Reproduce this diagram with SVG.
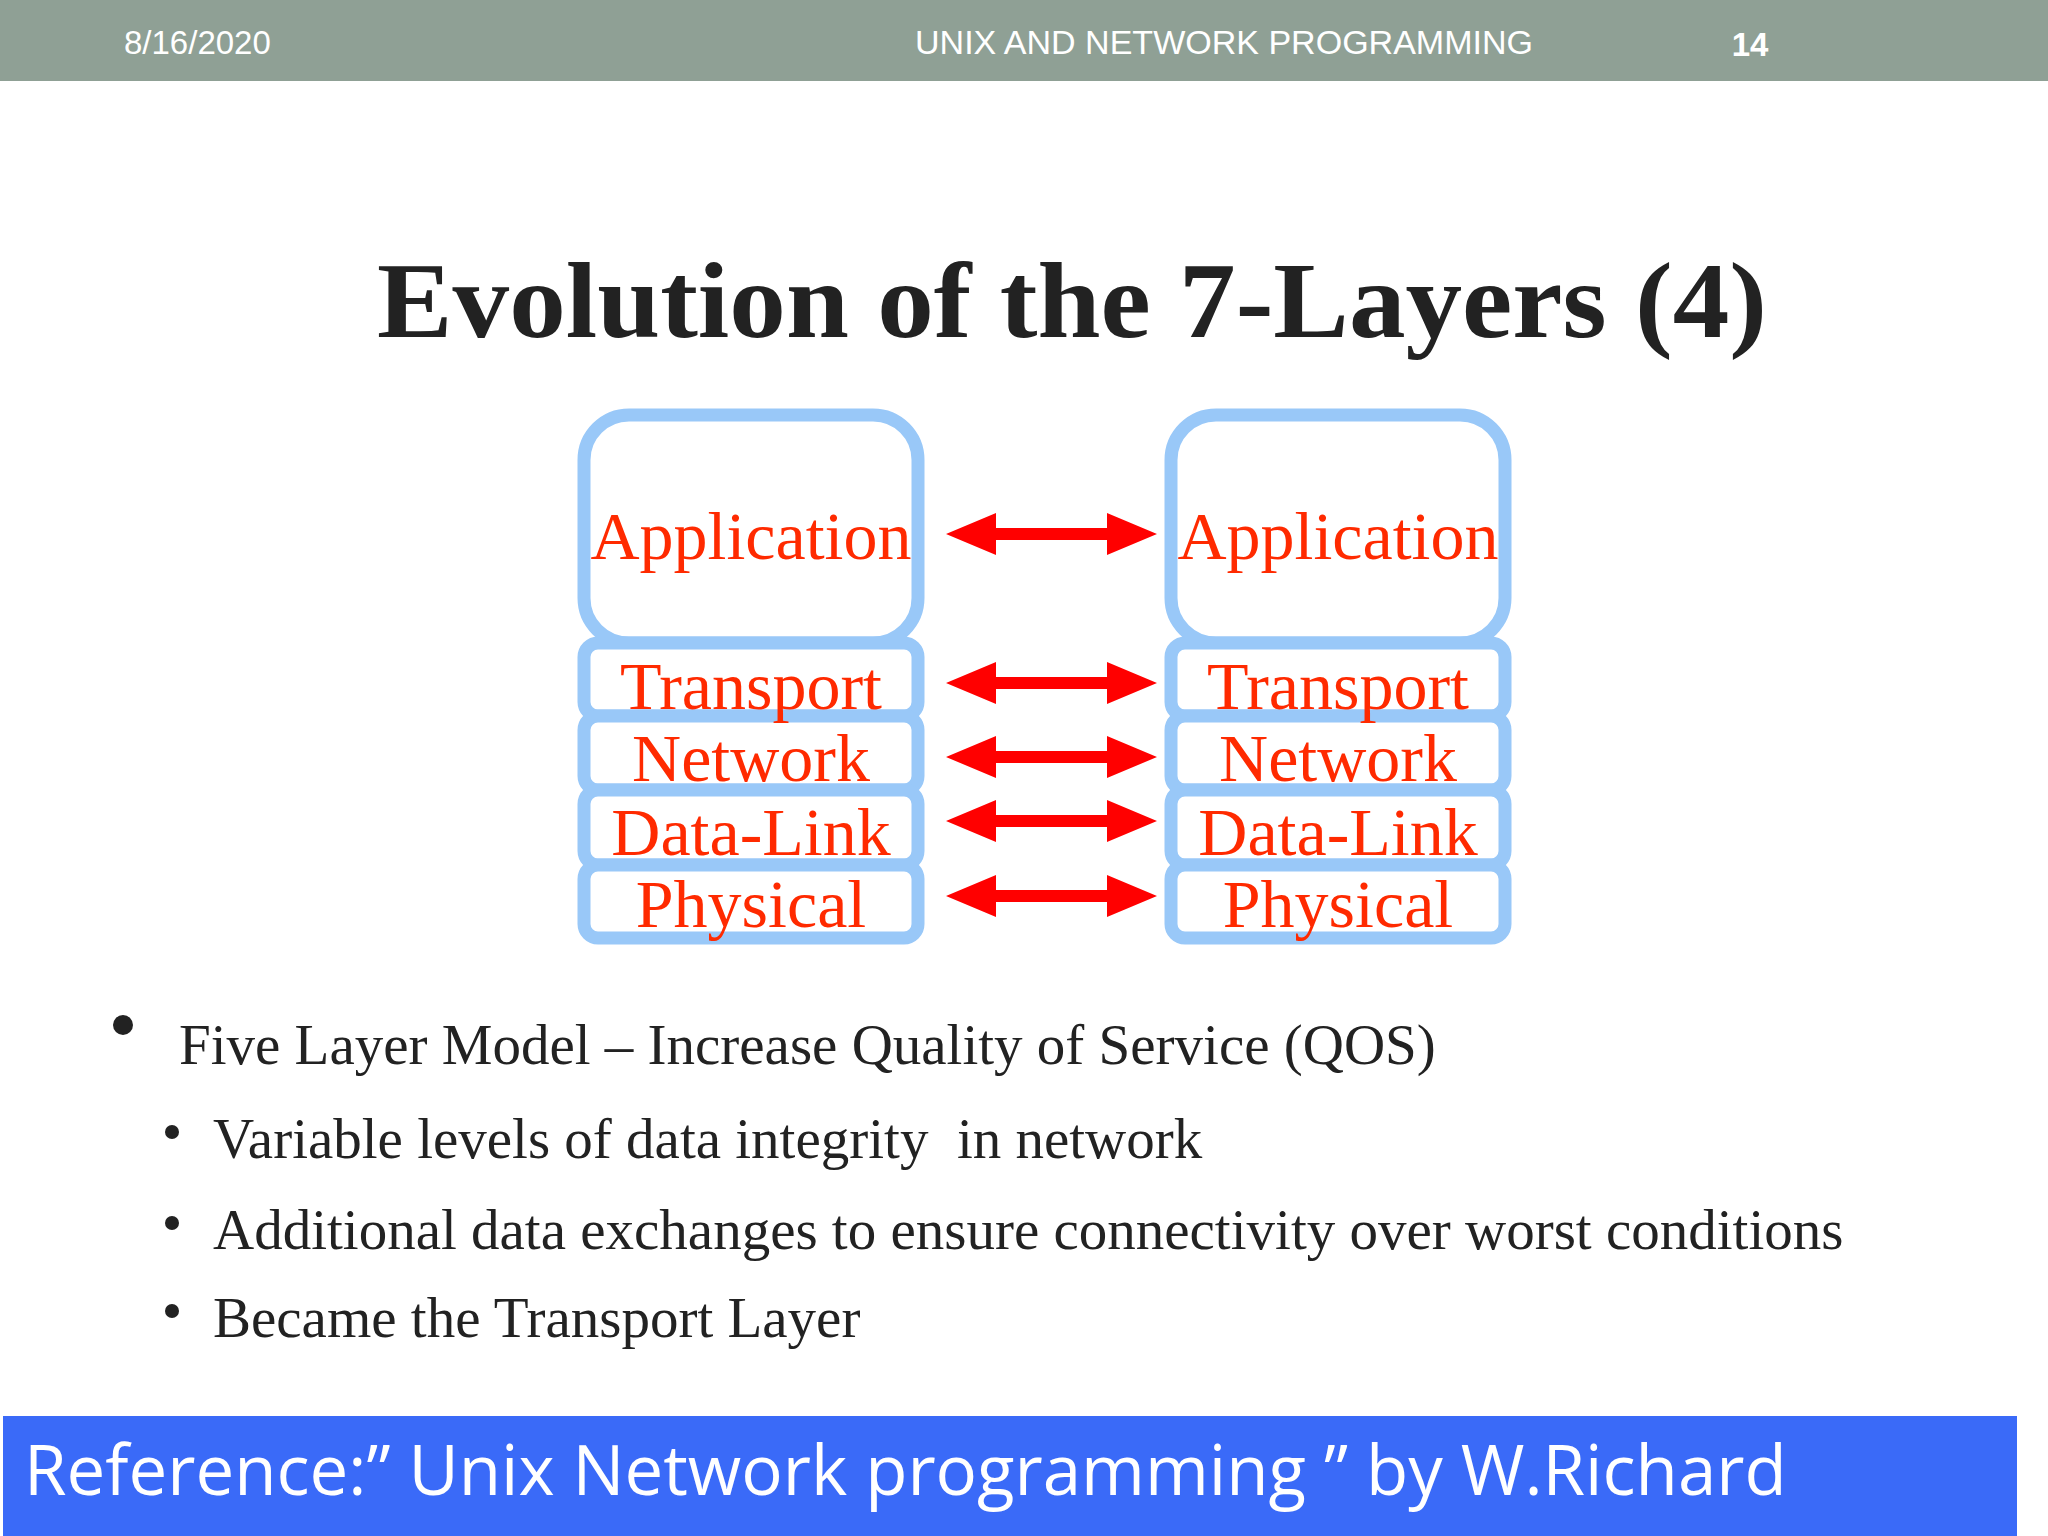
<svg xmlns="http://www.w3.org/2000/svg" width="2048" height="1536" viewBox="0 0 2048 1536">
<style>
.hd{font-family:"Liberation Sans",Arial,sans-serif;font-size:33px;fill:#fff}
.box{fill:#fff;stroke:#99c8f8;stroke-width:13}
.lb{font-family:"Liberation Serif","Times New Roman",serif;font-size:68px;fill:#ff2a00;text-anchor:middle}
.bt{font-family:"Liberation Serif","Times New Roman",serif;fill:#222}
.arr{fill:#ff0000}
</style>
<defs>
<path id="a" d="M0,0 L50,-21 L50,-6 L161,-6 L161,-21 L211,0 L161,21 L161,6 L50,6 L50,21 Z"/>
</defs>
<rect width="2048" height="1536" fill="#fff"/>
<rect x="0" y="0" width="2048" height="81" fill="#8fa095"/>
<text class="hd" x="124" y="54">8/16/2020</text>
<text class="hd" x="1224" y="54" text-anchor="middle" textLength="618" lengthAdjust="spacingAndGlyphs">UNIX AND NETWORK PROGRAMMING</text>
<text class="hd" x="1750" y="56" text-anchor="middle" font-weight="bold" font-size="40">14</text>
<text x="1072" y="337" text-anchor="middle" font-family="Liberation Serif,'Times New Roman',serif" font-weight="bold" font-size="108" fill="#222" textLength="1390" lengthAdjust="spacingAndGlyphs">Evolution of the 7-Layers (4)</text>
<g id="left">
<rect class="box" x="584" y="415" width="334" height="228" rx="45"/>
<rect class="box" x="584" y="643" width="334" height="73" rx="14"/>
<rect class="box" x="584" y="716" width="334" height="74" rx="14"/>
<rect class="box" x="584" y="790" width="334" height="75" rx="14"/>
<rect class="box" x="584" y="865" width="334" height="73" rx="14"/>
<text class="lb" x="751" y="559">Application</text>
<text class="lb" x="751" y="709">Transport</text>
<text class="lb" x="751" y="781">Network</text>
<text class="lb" x="751" y="855">Data-Link</text>
<text class="lb" x="751" y="927">Physical</text>
</g>
<g id="right">
<rect class="box" x="1171" y="415" width="334" height="228" rx="45"/>
<rect class="box" x="1171" y="643" width="334" height="73" rx="14"/>
<rect class="box" x="1171" y="716" width="334" height="74" rx="14"/>
<rect class="box" x="1171" y="790" width="334" height="75" rx="14"/>
<rect class="box" x="1171" y="865" width="334" height="73" rx="14"/>
<text class="lb" x="1338" y="559">Application</text>
<text class="lb" x="1338" y="709">Transport</text>
<text class="lb" x="1338" y="781">Network</text>
<text class="lb" x="1338" y="855">Data-Link</text>
<text class="lb" x="1338" y="927">Physical</text>
</g>
<g id="connectors" class="arr">
<use href="#a" x="946" y="534"/>
<use href="#a" x="946" y="683"/>
<use href="#a" x="946" y="757"/>
<use href="#a" x="946" y="821"/>
<use href="#a" x="946" y="896"/>
</g>
<g id="bullets">
<circle cx="123" cy="1025" r="10" fill="#222"/>
<text class="bt" x="179" y="1064" font-size="57">Five Layer Model – Increase Quality of Service (QOS)</text>
<circle cx="172" cy="1132" r="7" fill="#222"/>
<text class="bt" x="213" y="1158" font-size="57" xml:space="preserve">Variable levels of data integrity  in network</text>
<circle cx="172" cy="1223" r="7" fill="#222"/>
<text class="bt" x="213" y="1249" font-size="57">Additional data exchanges to ensure connectivity over worst conditions</text>
<circle cx="172" cy="1311" r="7" fill="#222"/>
<text class="bt" x="213" y="1337" font-size="57">Became the Transport Layer</text>
</g>
<rect x="3" y="1416" width="2014" height="120" fill="#3a6af8"/>
<text x="24" y="1495" font-family="'Open Sans','Noto Sans',sans-serif" font-size="69" fill="#fff">Reference:” Unix Network programming ” by W.Richard</text>
</svg>
